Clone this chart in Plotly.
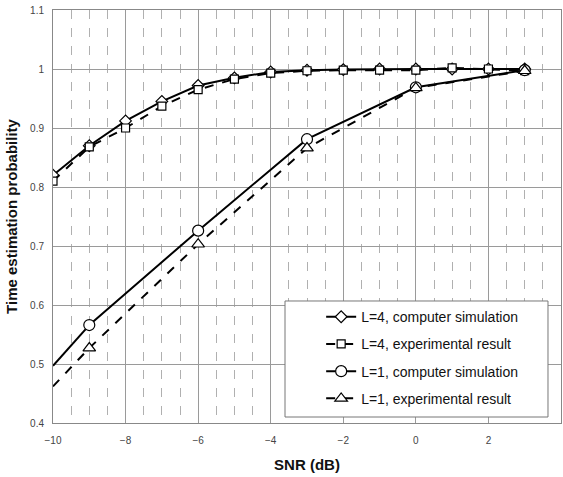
import plotly.graph_objects as go

# ---- data ----
snr_l4 = [-10, -9, -8, -7, -6, -5, -4, -3, -2, -1, 0, 1, 2, 3]
l4_sim = [0.820, 0.870, 0.912, 0.945, 0.972, 0.985, 0.995, 0.998, 0.999, 1.000, 1.000, 1.000, 1.000, 1.000]
l4_exp = [0.810, 0.868, 0.900, 0.937, 0.965, 0.983, 0.993, 0.997, 0.998, 0.998, 0.998, 1.002, 1.000, 0.997]

# first point (-10) is where the curve starts, without a marker
snr_l1 = [-10, -9, -6, -3, 0, 3]
l1_sim = [0.497, 0.566, 0.726, 0.881, 0.969, 0.998]
l1_exp = [0.462, 0.527, 0.703, 0.866, 0.968, 0.997]

names = ["L=4, computer simulation", "L=4, experimental result",
         "L=1, computer simulation", "L=1, experimental result"]

x_ticks = [-10, -8, -6, -4, -2, 0, 2, 4]
y_ticks = [0.4, 0.5, 0.6, 0.7, 0.8, 0.9, 1.0, 1.1]

FONT = "Liberation Sans, Arial, sans-serif"

fig = go.Figure()

def mk(symbol, size):
    return dict(symbol=symbol, size=size, color="white", line=dict(color="black", width=1.2))

fig.add_trace(go.Scatter(
    x=snr_l4, y=l4_sim, name=names[0], mode="lines+markers", legendgroup="a",
    line=dict(color="black", width=2), marker=mk("diamond", 9),
))
fig.add_trace(go.Scatter(
    x=snr_l4, y=l4_exp, name=names[1], mode="lines+markers", legendgroup="b",
    line=dict(color="black", width=2, dash="dash"), marker=mk("square", 8),
))
# L=1 lead-in segments (no markers)
fig.add_trace(go.Scatter(
    x=snr_l1[:2], y=l1_sim[:2], mode="lines", showlegend=False, legendgroup="c",
    line=dict(color="black", width=2), hoverinfo="skip",
))
fig.add_trace(go.Scatter(
    x=snr_l1[:2], y=l1_exp[:2], mode="lines", showlegend=False, legendgroup="d",
    line=dict(color="black", width=2, dash="dash"), hoverinfo="skip",
))
fig.add_trace(go.Scatter(
    x=snr_l1[1:], y=l1_sim[1:], name=names[2], mode="lines+markers", legendgroup="c",
    line=dict(color="black", width=2), marker=mk("circle", 11),
))
fig.add_trace(go.Scatter(
    x=snr_l1[1:], y=l1_exp[1:], name=names[3], mode="lines+markers", legendgroup="d",
    line=dict(color="black", width=2, dash="dash"), marker=mk("triangle-up", 11),
))

fig.update_layout(
    width=563, height=477,
    margin=dict(l=53, r=2, t=10, b=54),
    paper_bgcolor="white", plot_bgcolor="white",
    font=dict(family=FONT, color="#222"),
    legend=dict(
        x=0.457, y=0.295, xanchor="left", yanchor="top",
        bgcolor="rgba(0,0,0,0)", borderwidth=0,
        font=dict(family=FONT, size=14, color="#111"),
        tracegroupgap=6, indentation=36,
        traceorder="grouped",
    ),
    shapes=[dict(
        type="rect", xref="paper", yref="paper", layer="above",
        x0=0.4567, x1=0.9744, y0=0.0145, y1=0.2954,
        fillcolor="white", line=dict(color="#777", width=1),
    )],
    xaxis=dict(
        range=[-10, 4], tickvals=x_ticks,
        showgrid=True, gridcolor="#9a9a9a", gridwidth=1,
        minor=dict(dtick=0.5, tick0=0, showgrid=True, gridcolor="#b0b0b0", griddash="dash", gridwidth=1),
        showline=True, linecolor="#888", linewidth=1, mirror=True,
        zeroline=False, ticks="", ticklabelstandoff=8,
        tickfont=dict(family=FONT, size=10, color="#444"),
        title=dict(text="<b>SNR (dB)</b>", font=dict(family=FONT, size=15, color="#111"), standoff=14),
    ),
    yaxis=dict(
        range=[0.4, 1.1], tickvals=y_ticks,
        showgrid=True, gridcolor="#9a9a9a", gridwidth=1,
        showline=True, linecolor="#888", linewidth=1, mirror=True,
        zeroline=False, ticks="", ticklabelstandoff=6,
        tickfont=dict(family=FONT, size=10, color="#444"),
        title=dict(text="<b>Time estimation probability</b>", font=dict(family=FONT, size=15, color="#111"), standoff=8),
    ),
)

fig.write_html("out.html")
